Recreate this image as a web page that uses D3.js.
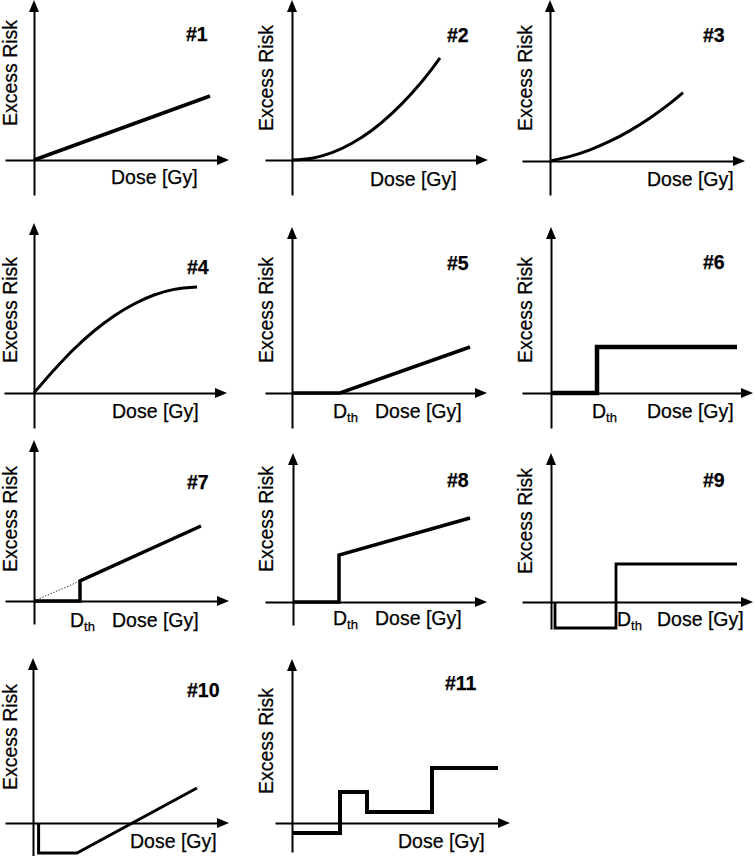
<!DOCTYPE html>
<html><head><meta charset="utf-8">
<script src="https://cdn.jsdelivr.net/npm/d3@7"></script>
<style>body{margin:0;background:#fff}svg{display:block}</style>
</head><body><svg id="c" width="755" height="856"></svg>
<script>
// ---- data (arbitrary dose / excess-risk units) ----
const panelLabels = ["#1","#2","#3","#4","#5","#6","#7","#8","#9","#10","#11"];
const xAxisTitle = "Dose [Gy]";
const yAxisTitle = "Excess Risk";
const thresholdLabel = ["D", "th"];

const dose1 = [0, 8.8],                       risk1 = [0, 3.2];
const dose2 = [0, 1, 2, 3, 4, 5, 6, 7, 7.4],  risk2 = [0, 0.09, 0.37, 0.84, 1.49, 2.33, 3.35, 4.56, 5.1];
const dose3 = [0, 1, 2, 3, 4, 5, 6, 6.65],    risk3 = [0, 0.23, 0.56, 0.99, 1.52, 2.15, 2.88, 3.42];
const dose4 = [0, 1, 2, 3, 4, 5, 6, 7, 8.15], risk4 = [0, 1.15, 2.2, 3.1, 3.85, 4.45, 4.9, 5.18, 5.3];
const dose5 = [0, 2.4, 8.9],                  risk5 = [0, 0, 2.3];
const dose6 = [0, 2.3, 2.3, 9.3],             risk6 = [0, 0, 2.3, 2.3];
const dose7 = [0, 2.3, 2.3, 8.35],            risk7 = [0, 0, 1.0, 3.75];
const dose7lin = [0, 2.3],                    risk7lin = [0, 1.0];
const dose8 = [0, 2.3, 2.3, 8.85],            risk8 = [0, 0, 2.35, 4.2];
const dose9 = [0.2, 0.2, 3.25, 3.25, 9.3],    risk9 = [0, -1.3, -1.3, 1.9, 1.9];
const dose10 = [0.28, 0.28, 2.2, 8.2],        risk10 = [0, -1.5, -1.5, 1.75];
const dose11 = [0, 2.4, 2.4, 3.75, 3.75, 7.0, 7.0, 10.3], risk11 = [-0.5, -0.5, 1.55, 1.55, 0.55, 0.55, 2.75, 2.75];
const thresholdDose = [null, null, null, null, 2.4, 2.3, 2.3, 2.3, 3.25, null, null];

const series = [
  {dose: dose1, risk: risk1, smooth: false},
  {dose: dose2, risk: risk2, smooth: true},
  {dose: dose3, risk: risk3, smooth: true},
  {dose: dose4, risk: risk4, smooth: true},
  {dose: dose5, risk: risk5, smooth: false},
  {dose: dose6, risk: risk6, smooth: false},
  {dose: dose7, risk: risk7, smooth: false, extra: {dose: dose7lin, risk: risk7lin}},
  {dose: dose8, risk: risk8, smooth: false},
  {dose: dose9, risk: risk9, smooth: false},
  {dose: dose10, risk: risk10, smooth: false},
  {dose: dose11, risk: risk11, smooth: false}
];

// ---- layout (pixel placement of each small panel) ----
const layout = [
  {ox: 34,  oy: 160, xl: -29, xr: 195, yt: -160, yb: 35, lw: 3.5, ly: 73,  lx: 186, lby: 41,  dx: 111, dy: 184, thx: 0},
  {ox: 292, oy: 160, xl: -27, xr: 196, yt: -160, yb: 35, lw: 3,   ly: 78,  lx: 447, lby: 42,  dx: 370, dy: 186, thx: 0},
  {ox: 550, oy: 161, xl: -28, xr: 195, yt: -161, yb: 34, lw: 3,   ly: 78,  lx: 703, lby: 42,  dx: 647, dy: 186, thx: 0},
  {ox: 34,  oy: 393, xl: -30, xr: 193, yt: -170, yb: 35, lw: 3,   ly: 310, lx: 187, lby: 274, dx: 112, dy: 418, thx: 0},
  {ox: 292, oy: 393, xl: -27, xr: 195, yt: -166, yb: 35, lw: 3.5, ly: 310, lx: 447, lby: 270, dx: 375, dy: 418, thx: 333},
  {ox: 551, oy: 393, xl: -29, xr: 202, yt: -166, yb: 35, lw: 4.5, ly: 310, lx: 703, lby: 269, dx: 647, dy: 418, thx: 592},
  {ox: 34,  oy: 601, xl: -29, xr: 195, yt: -161, yb: 23, lw: 3.5, ly: 519, lx: 187, lby: 489, dx: 112, dy: 627, thx: 70},
  {ox: 293, oy: 602, xl: -28, xr: 194, yt: -149, yb: 23, lw: 3.5, ly: 519, lx: 447, lby: 487, dx: 375, dy: 625, thx: 333},
  {ox: 551, oy: 602, xl: -29, xr: 202, yt: -149, yb: 27, lw: 2.8, ly: 521, lx: 703, lby: 487, dx: 657, dy: 626, thx: 617},
  {ox: 33,  oy: 823, xl: -28, xr: 196, yt: -165, yb: 33, lw: 3,   ly: 737, lx: 187, lby: 697, dx: 130, dy: 848, thx: 0},
  {ox: 292, oy: 823, xl: -17, xr: 218, yt: -164, yb: 29, lw: 4,   ly: 741, lx: 445, lby: 690, dx: 398, dy: 848, thx: 0}
];
const titleX = [16.5, 273, 532];
const FONT = "'Liberation Sans', Arial, sans-serif";
const FS = 19.5;
const PX_PER_UNIT = 20;

const svg = d3.select("#c");

function styleText(t, size) {
  return t.attr("font-family", FONT).attr("font-size", size)
    .attr("fill", "#000").attr("stroke", "#000").attr("stroke-width", 0.25);
}

layout.forEach((L, i) => {
  const g = svg.append("g");
  const x = d3.scaleLinear().domain([0, 1]).range([L.ox, L.ox + PX_PER_UNIT]);
  const y = d3.scaleLinear().domain([0, 1]).range([L.oy, L.oy - PX_PER_UNIT]);

  // x axis (no ticks) + arrowhead
  const xa = d3.scaleLinear().domain([0, 1]).range([L.ox + L.xl, L.ox + L.xr - 10]);
  const gx = g.append("g").attr("transform", `translate(0,${L.oy})`)
    .call(d3.axisBottom(xa).tickValues([]).tickSizeOuter(0));
  gx.select(".domain").attr("stroke", "#000").attr("stroke-width", 2);
  g.append("path")
    .attr("d", `M${L.ox + L.xr},${L.oy}L${L.ox + L.xr - 12},${L.oy - 5}L${L.ox + L.xr - 12},${L.oy + 5}Z`)
    .attr("fill", "#000");

  // y axis (no ticks) + arrowhead
  const ya = d3.scaleLinear().domain([0, 1]).range([L.oy + L.yb, L.oy + L.yt + 10]);
  const gy = g.append("g").attr("transform", `translate(${L.ox},0)`)
    .call(d3.axisLeft(ya).tickValues([]).tickSizeOuter(0));
  gy.select(".domain").attr("stroke", "#000").attr("stroke-width", 2);
  g.append("path")
    .attr("d", `M${L.ox},${L.oy + L.yt}L${L.ox - 5},${L.oy + L.yt + 12}L${L.ox + 5},${L.oy + L.yt + 12}Z`)
    .attr("fill", "#000");

  // data line
  const s = series[i];
  const pts = s.dose.map((d, k) => [d, s.risk[k]]);
  const line = d3.line().x(p => x(p[0])).y(p => y(p[1]))
    .curve(s.smooth ? d3.curveMonotoneX : d3.curveLinear);
  if (s.extra) {
    const ep = s.extra.dose.map((d, k) => [d, s.extra.risk[k]]);
    g.append("path").attr("d", d3.line().x(p => x(p[0])).y(p => y(p[1]))(ep))
      .attr("fill", "none").attr("stroke", "#444").attr("stroke-width", 1)
      .attr("stroke-dasharray", "1.5,1.5");
  }
  g.append("path").attr("d", line(pts))
    .attr("fill", "none").attr("stroke", "#000").attr("stroke-width", L.lw)
    .attr("stroke-linejoin", "miter").attr("stroke-linecap", "butt");

  // panel label
  styleText(g.append("text").attr("x", L.lx).attr("y", L.lby).text(panelLabels[i]), FS)
    .attr("font-weight", "bold");

  // x title
  styleText(g.append("text").attr("x", L.dx).attr("y", L.dy).text(xAxisTitle), FS);

  // y title
  const tx = titleX[i % 3];
  styleText(g.append("text").attr("transform", `translate(${tx},${L.ly}) rotate(-90)`)
    .attr("text-anchor", "middle").text(yAxisTitle), FS);

  // threshold label
  if (thresholdDose[i] !== null) {
    const t = styleText(g.append("text").attr("x", L.thx).attr("y", L.dy), FS);
    t.append("tspan").text(thresholdLabel[0]);
    t.append("tspan").attr("font-size", 13).attr("dy", 4).text(thresholdLabel[1]);
  }
});
</script>
</body></html>
